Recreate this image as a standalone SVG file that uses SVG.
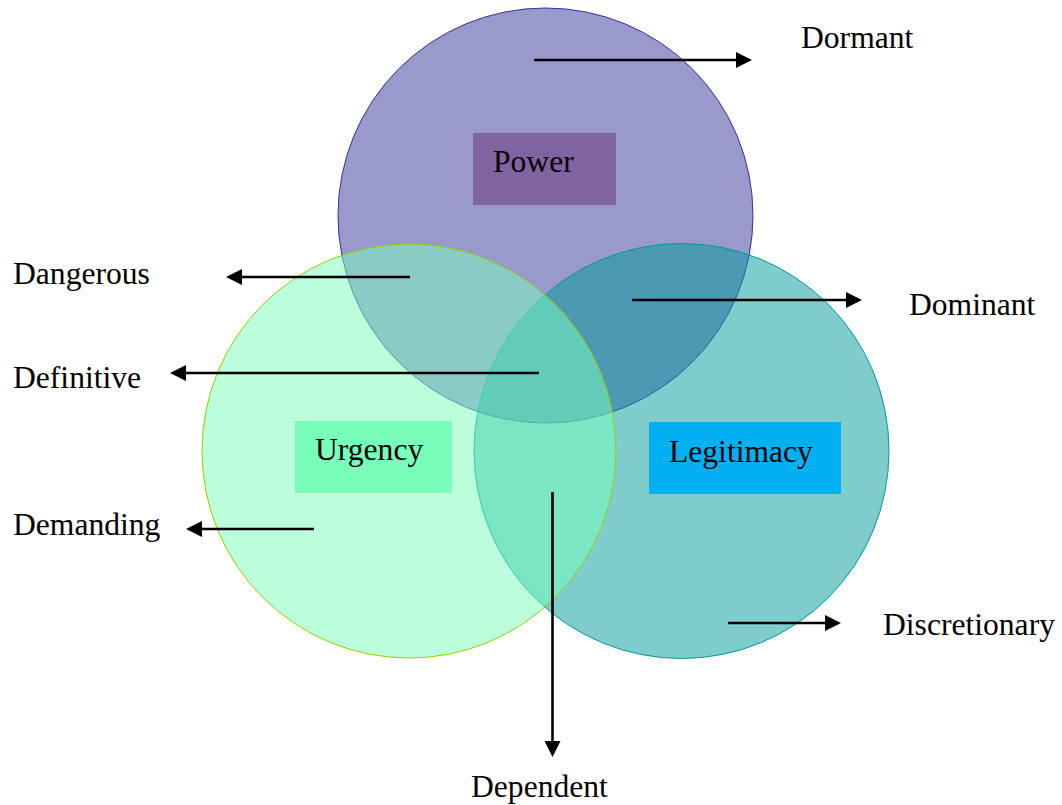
<svg xmlns="http://www.w3.org/2000/svg" width="1062" height="805" viewBox="0 0 1062 805">
<style>
text{font-family:"Liberation Serif","Times New Roman",serif;font-size:31.6px;fill:#000}
.c{fill-opacity:0.5;stroke-width:1}
.a{stroke:#000;stroke-width:2.6;fill:none;marker-end:url(#ah)}
</style>
<defs>
<marker id="ah" markerUnits="userSpaceOnUse" markerWidth="17" markerHeight="17" refX="3" refY="8" orient="auto" viewBox="0 0 17 17">
<path d="M0,0 L16,8 L0,16 z" fill="#000"/>
</marker>
</defs>
<rect width="1062" height="805" fill="#fff"/>
<g id="power">
<circle class="c" cx="545.5" cy="215.5" r="207.5" fill="#333399" stroke="#333399"/>
</g>
<g id="legitimacy">
<circle class="c" cx="681.5" cy="451" r="207.5" fill="#009999" stroke="#009999"/>
</g>
<g id="urgency">
<circle class="c" cx="409" cy="451" r="207" fill="#77FFBB" stroke="#99CC00"/>
</g>
<g id="power-label">
<rect x="473" y="133" width="143" height="72" fill="#8064A2"/>
<text x="493" y="172">Power</text>
</g>
<g id="urgency-label">
<rect x="295" y="421" width="157" height="72" fill="#7AFFBA"/>
<text x="315" y="460">Urgency</text>
</g>
<g id="legitimacy-label">
<rect x="649" y="422" width="192" height="72" fill="#00B0F0"/>
<text x="669" y="462">Legitimacy</text>
</g>
<g id="connectors">
<line class="a" x1="534" y1="60" x2="739" y2="60"/>
<line class="a" x1="410" y1="277" x2="239" y2="277"/>
<line class="a" x1="539" y1="373" x2="183" y2="373"/>
<line class="a" x1="314" y1="529" x2="199" y2="529"/>
<line class="a" x1="632" y1="300" x2="849" y2="300"/>
<line class="a" x1="728" y1="623" x2="828" y2="623"/>
<line class="a" x1="552.5" y1="492" x2="552.5" y2="744"/>
</g>
<g id="outer-labels">
<text x="801" y="48">Dormant</text>
<text x="13" y="284">Dangerous</text>
<text x="909" y="315">Dominant</text>
<text x="13" y="388">Definitive</text>
<text x="13" y="535">Demanding</text>
<text x="883" y="635">Discretionary</text>
<text x="471" y="797">Dependent</text>
</g>
</svg>
